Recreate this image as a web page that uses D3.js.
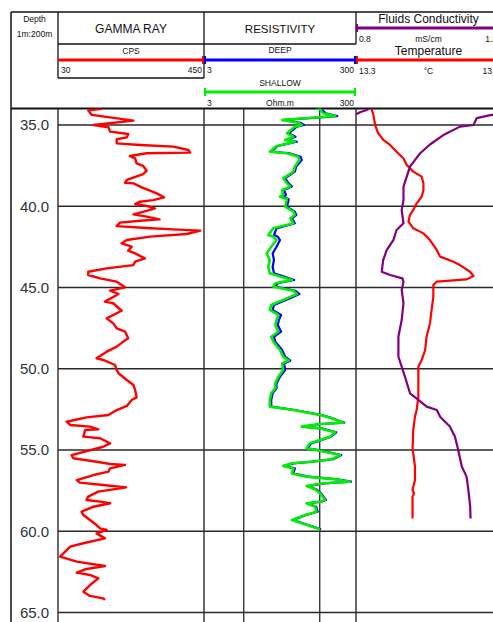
<!DOCTYPE html>
<html>
<head>
<meta charset="utf-8">
<script src="https://cdn.jsdelivr.net/npm/d3@7/dist/d3.min.js"></script>
<style>
  html, body { margin: 0; padding: 0; background: #fff; }
  svg { display: block; font-family: "Liberation Sans", Arial, sans-serif; }
</style>
</head>
<body>
<svg id="chart" width="493" height="622"></svg>
<script>
// ---------------- DATA ----------------
const depthTicks = [35, 40, 45, 50, 55, 60, 65];

const gammaDepth = [34.0, 34.1, 34.38, 34.73, 35.0, 35.06, 35.14, 35.41, 35.55, 35.76, 35.88, 36.13, 36.23, 36.33, 36.54, 36.70, 36.74, 36.91, 37.05, 37.36, 37.52, 37.81, 38.02, 38.38, 38.55, 38.59, 38.84, 39.21, 39.45, 39.62, 39.72, 39.86, 39.98, 40.13, 40.29, 40.50, 40.64, 40.81, 40.89, 41.01, 41.22, 41.34, 41.42, 41.50, 41.71, 41.87, 42.08, 42.28, 42.49, 42.73, 42.90, 43.21, 43.41, 43.62, 43.82, 44.03, 44.23, 44.44, 44.64, 44.99, 45.19, 45.40, 45.87, 45.97, 46.43, 46.90, 47.21, 47.51, 47.72, 48.13, 48.33, 48.64, 48.95, 49.36, 49.46, 49.77, 50.08, 50.28, 50.69, 51.00, 51.31, 51.76, 51.92, 52.29, 52.54, 52.85, 52.99, 53.26, 53.46, 53.56, 53.73, 53.77, 54.18, 54.28, 54.59, 54.80, 55.31, 55.51, 55.72, 55.86, 55.92, 56.13, 56.33, 56.54, 56.85, 57.01, 57.15, 57.30, 57.42, 57.56, 57.87, 58.08, 58.18, 58.28, 58.49, 58.79, 59.00, 59.31, 59.62, 59.82, 59.92, 60.13, 60.44, 60.74, 60.95, 61.56, 61.87, 62.14, 62.34, 62.55, 62.69, 62.90, 63.31, 63.72, 63.98, 64.13, 64.23];
const gammaCPS = [156, 117, 127, 247, 132, 151, 175, 180, 232, 228, 199, 199, 266, 362, 405, 410, 285, 237, 252, 256, 275, 285, 275, 228, 223, 247, 271, 314, 335, 304, 266, 252, 285, 309, 285, 247, 285, 322, 266, 208, 199, 285, 362, 439, 400, 295, 228, 213, 242, 232, 252, 280, 252, 247, 170, 117, 117, 151, 199, 223, 180, 204, 165, 189, 213, 170, 189, 199, 223, 232, 218, 199, 170, 141, 160, 194, 199, 204, 228, 247, 252, 256, 242, 228, 199, 175, 112, 55, 65, 122, 146, 108, 103, 151, 180, 160, 69, 74, 141, 180, 223, 180, 175, 132, 84, 93, 160, 226, 189, 146, 117, 112, 151, 180, 132, 98, 103, 122, 141, 151, 170, 141, 165, 103, 65, 36, 84, 165, 108, 84, 122, 146, 122, 103, 122, 160, 165];

const resDepth = [34.0, 34.04, 34.28, 34.45, 34.69, 34.86, 35.0, 35.10, 35.51, 35.72, 35.92, 36.03, 36.29, 36.64, 36.74, 36.95, 37.15, 37.56, 37.87, 38.28, 38.59, 38.79, 39.0, 39.31, 39.41, 39.57, 40.03, 40.33, 40.54, 40.74, 41.05, 41.36, 41.77, 41.87, 42.08, 42.49, 42.90, 43.31, 43.72, 44.13, 44.33, 44.54, 44.74, 44.95, 45.20, 45.40, 45.67, 46.08, 46.38, 46.69, 47.0, 47.31, 47.72, 48.03, 48.33, 48.85, 49.26, 49.50, 49.67, 50.08, 50.49, 50.90, 51.21, 51.51, 51.92, 52.33, 52.54, 52.85, 52.99, 53.32, 53.40, 53.56, 53.67, 53.91, 54.18, 54.39, 54.59, 54.90, 55.04, 55.31, 55.57, 55.72, 55.82, 55.98, 56.13, 56.44, 56.64, 56.81, 56.95, 57.05, 57.22, 57.42, 57.67, 58.08, 58.18, 58.28, 58.49, 58.80, 59.0, 59.31, 59.51, 59.88];
const resShallow = [91, 101, 111, 160, 32, 52, 58, 47, 37, 45, 35, 47, 27, 22, 37, 52, 54, 47, 45, 33, 37, 41, 32, 33, 30, 37, 35, 45, 47, 41, 45, 24.5, 21, 24.5, 27, 23, 20, 22, 21, 22, 30, 43, 26, 24.5, 45, 50, 37, 23, 22, 28.5, 27, 26, 28.5, 23, 24.5, 30, 33, 39, 32, 33, 28.5, 26, 26, 23, 22, 22, 45, 101, 130, 204, 101, 58, 101, 159, 136, 101, 74, 67, 101, 185, 144, 78, 43, 33, 45, 43, 67, 167, 250, 111, 67, 87, 101, 117, 101, 67, 87, 91, 64, 43, 58, 101];
const resDeep = [95, 105, 120, 170, 34, 55, 62, 50, 39, 48, 37, 50, 28, 23, 40, 56, 58, 49, 47, 35, 39, 43, 34, 36, 33, 39, 37, 47, 49, 43, 47, 27, 25, 28, 30, 27, 24, 25, 24, 25, 34, 46, 28, 26, 48, 54, 40, 25, 24, 31, 29, 28, 31, 25, 26, 32, 35, 41, 34, 35, 30, 27, 27, 24, 23, 23, 47, 106, 135, 210, 104, 60, 105, 165, 140, 104, 77, 69, 104, 192, 150, 80, 45, 34, 47, 45, 70, 172, 258, 115, 69, 90, 104, 121, 104, 69, 90, 94, 66, 45, 60, 104];

const condDepth = [34.0, 34.08, 34.22, 34.32, 34.38, 34.58, 35.0, 35.10, 35.62, 36.2, 36.74, 37.15, 37.56, 38.18, 38.79, 39.62, 40.23, 41.05, 41.46, 42.08, 42.69, 43.31, 44.03, 44.23, 44.44, 44.64, 45.15, 45.97, 47.0, 48.03, 49.26, 49.87, 50.49, 51.51, 51.82, 52.33, 52.54, 52.95, 53.56, 54.18, 55.0, 56.03, 56.64, 57.46, 58.49, 59.21];
const conductivity = [1.236, 1.229, 1.211, 1.202, 1.174, 1.133, 1.124, 1.087, 1.041, 1.004, 0.977, 0.963, 0.949, 0.940, 0.931, 0.931, 0.926, 0.931, 0.912, 0.903, 0.885, 0.875, 0.871, 0.894, 0.928, 0.931, 0.926, 0.931, 0.926, 0.917, 0.917, 0.926, 0.935, 0.949, 0.967, 0.995, 1.023, 1.032, 1.059, 1.073, 1.082, 1.092, 1.105, 1.110, 1.115, 1.116];

const tempDepth = [34.0, 34.04, 34.38, 35.0, 35.51, 35.92, 36.23, 36.64, 37.05, 37.46, 37.87, 38.18, 38.59, 39.0, 39.41, 39.82, 40.23, 40.54, 40.95, 41.36, 41.67, 42.08, 42.69, 43.10, 43.41, 43.62, 44.03, 44.29, 44.50, 44.58, 44.64, 44.85, 45.56, 46.38, 47.21, 48.03, 48.85, 49.46, 49.87, 50.90, 51.72, 52.54, 52.95, 53.77, 55.0, 55.21, 56.03, 56.85, 57.46, 57.67, 57.87, 59.21];
const temperature = [13.363, 13.365, 13.372, 13.379, 13.392, 13.413, 13.441, 13.468, 13.496, 13.510, 13.537, 13.572, 13.579, 13.579, 13.572, 13.551, 13.537, 13.523, 13.517, 13.537, 13.579, 13.606, 13.634, 13.648, 13.703, 13.730, 13.772, 13.786, 13.758, 13.689, 13.634, 13.620, 13.620, 13.613, 13.606, 13.592, 13.586, 13.572, 13.558, 13.558, 13.558, 13.551, 13.544, 13.537, 13.534, 13.537, 13.544, 13.544, 13.534, 13.540, 13.534, 13.534];

const gammaRange = [30, 450];
const resRange = [3, 300];
const resGrid = [10, 100];
const condRange = [0.8, 1.2];
const tempRange = [13.3, 13.9];

// ---------------- LAYOUT ----------------
const W = 493, H = 622;
const xL = 11, xDepth = 58, xGam = 204, xRes = 356, xFl = 501;
const yTop = 12, yPlot = 108.5;

const svg = d3.select("#chart");
const y = d3.scaleLinear().domain([35, 65]).range([125, 612.5]);
const xG = d3.scaleLinear().domain(gammaRange).range([xDepth, xGam]);
const xR = d3.scaleLog().domain(resRange).range([xGam, xRes]);
const xC = d3.scaleLinear().domain(condRange).range([xRes, xFl]);
const xT = d3.scaleLinear().domain(tempRange).range([xRes, xFl]);

const defs = svg.append("defs");
function clip(id, x0, x1) {
  defs.append("clipPath").attr("id", id).append("rect")
    .attr("x", x0).attr("y", yPlot).attr("width", x1 - x0).attr("height", H - yPlot);
}
clip("cg", xDepth, xGam);
clip("cr", xGam, xRes);
clip("cf", xRes, xFl);

function line(x1, y1, x2, y2, stroke, w) {
  svg.append("line").attr("x1", x1).attr("y1", y1).attr("x2", x2).attr("y2", y2)
    .attr("stroke", stroke).attr("stroke-width", w);
}
function text(t, x, yy, size, anchor, fill) {
  svg.append("text").attr("x", x).attr("y", yy).attr("font-size", size)
    .attr("text-anchor", anchor || "middle").attr("fill", fill || "#111").text(t);
}

// ---------------- GRID ----------------
const gridColor = "#2a2a2a";
depthTicks.forEach(d => line(xDepth, y(d), W, y(d), gridColor, 1.3));
resGrid.forEach(v => line(xR(v), yPlot, xR(v), H, gridColor, 1.3));
[xDepth, xGam, xRes].forEach(x => line(x, yPlot, x, H, gridColor, 1.4));

// depth labels
depthTicks.forEach(d => {
  svg.append("text").attr("x", 34.5).attr("y", y(d)).attr("dy", "0.36em")
    .attr("font-size", 15).attr("text-anchor", "middle").attr("fill", "#2b3340")
    .text(d3.format(".1f")(d));
});

// ---------------- HEADER ----------------
line(xL, yTop, W, yTop, "#111", 1.5);
line(xL, yTop, xL, H, "#111", 1.5);
line(xDepth, yTop, xDepth, 78, "#111", 1.3);
line(xGam, yTop, xGam, 78, "#111", 1.3);
line(xDepth, 44, xRes, 44, "#111", 1.3);
line(xDepth, 78, xGam, 78, "#111", 1.3);
line(xRes, yTop, xRes, 44, "#111", 1.3);
line(xL, yPlot, W, yPlot, "#111", 2);

text("Depth", 34.5, 22, 8.5);
text("1m:200m", 34.5, 37, 8.5);
text("GAMMA RAY", (xDepth + xGam) / 2, 33, 12);
text("RESISTIVITY", (xGam + xRes) / 2, 33, 11.5);
text("Fluids Conductivity", 428.5, 23, 12);
text("Temperature", 428.5, 55, 12);

// scale bars
function scaleBar(x0, x1, yy, color, ticks) {
  line(x0, yy, x1, yy, color, 3);
  ticks.forEach(t => line(t, yy - 4, t, yy + 4, color, 2));
}
scaleBar(xDepth, xGam, 60, "#ff0000", [xGam - 1]);
scaleBar(xGam, xRes, 60, "#0000ff", [xGam + 1, xRes - 1]);
scaleBar(xGam, xRes, 92, "#00ee00", [xGam + 1, xRes - 1]);
scaleBar(xRes, xFl, 28, "#800080", [xRes + 1]);
scaleBar(xRes, xFl, 60, "#ff0000", [xRes + 1]);

text("CPS", (xDepth + xGam) / 2, 54, 8.5);
text(gammaRange[0], xDepth + 3, 73, 8.5, "start");
text(gammaRange[1], xGam - 2, 73, 8.5, "end");
text("DEEP", (xGam + xRes) / 2, 53, 8.5);
text(resRange[0], xGam + 3, 73, 8.5, "start");
text(resRange[1], xRes - 2, 73, 8.5, "end");
text("SHALLOW", (xGam + xRes) / 2, 86, 8.5);
text(resRange[0], xGam + 3, 106, 8.5, "start");
text("Ohm.m", (xGam + xRes) / 2, 106, 8.5);
text(resRange[1], xRes - 2, 106, 8.5, "end");
text(condRange[0].toFixed(1), xRes + 3, 41.5, 8.5, "start");
text("mS/cm", 428.5, 41.5, 8.5);
text(condRange[1].toFixed(1), xFl - 4, 41.5, 8.5, "end");
text(tempRange[0].toFixed(1), xRes + 3, 74, 8.5, "start");
text("°C", 428.5, 74, 8.5);
text(tempRange[1].toFixed(1), xFl - 2, 74, 8.5, "end");

// ---------------- CURVES ----------------
function curve(depths, vals, xs, clipId, color, w, shift) {
  const data = depths.map((d, i) => ({ d: d, v: vals[i] }));
  const gen = d3.line().x(p => xs(p.v) - (shift || 0)).y(p => y(p.d));
  svg.append("path").attr("clip-path", `url(#${clipId})`)
    .attr("d", gen(data)).attr("fill", "none").attr("stroke", color)
    .attr("stroke-width", w).attr("stroke-linejoin", "round");
}
curve(gammaDepth, gammaCPS, xG, "cg", "#ff0000", 2.4);
curve(resDepth, resDeep, xR, "cr", "#0000ff", 2.2);
curve(resDepth, resShallow, xR, "cr", "#00ee00", 2.6);
curve(tempDepth, temperature, xT, "cf", "#ff0000", 2.2);
curve(condDepth, conductivity, xC, "cf", "#800080", 2.2);
// wrapped (backup) portion of conductivity beyond scale max
curve(condDepth, conductivity, xC, "cf", "#800080", 2.2, xFl - xRes);
</script>
</body>
</html>
